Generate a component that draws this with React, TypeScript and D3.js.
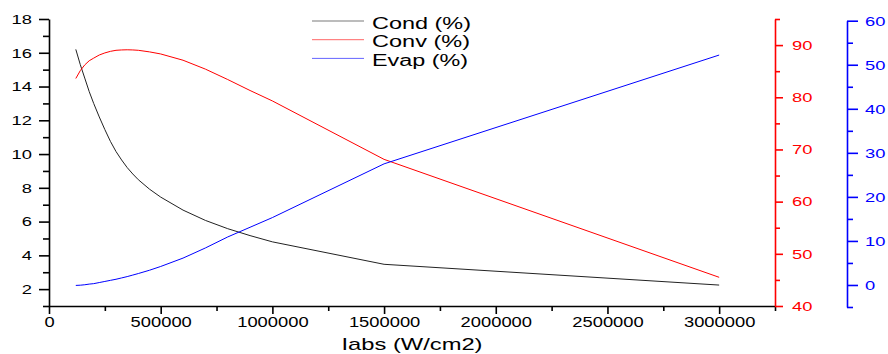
import React, { useEffect, useRef } from 'react';
import * as d3 from 'd3';

// Iabs (W/cm2)
const xVals = [120000, 140000, 160000, 180000, 200000, 225000, 250000, 275000, 300000, 325000, 350000, 375000, 400000,
  450000, 500000, 600000, 700000, 800000, 900000, 1000000, 1500000, 3000000];
// left axis
const cond = [16.2, 15.3, 14.5, 13.7, 13.0, 12.2, 11.45, 10.75, 10.15, 9.65, 9.2, 8.82, 8.48,
  7.92, 7.45, 6.68, 6.07, 5.58, 5.17, 4.8, 3.47, 2.24];
// red axis
const conv = [83.6, 85.1, 86.2, 87.0, 87.5, 88.1, 88.5, 88.8, 89.0, 89.07, 89.1, 89.07, 89.0,
  88.7, 88.3, 87.1, 85.4, 83.4, 81.3, 79.3, 68.1, 45.5];
// blue axis
const evap = [-0.1, -0.05, 0.05, 0.2, 0.3, 0.55, 0.8, 1.05, 1.3, 1.6, 1.9, 2.25, 2.6,
  3.35, 4.2, 6.1, 8.4, 10.9, 13.1, 15.3, 27.5, 52.2];

const legendItems = [
  { label: 'Cond (%)', color: '#222', len: 99 },
  { label: 'Conv (%)', color: '#ff0000', len: 98 },
  { label: 'Evap (%)', color: '#0000ff', len: 96 },
];

const FONT = '"Liberation Sans", Arial, sans-serif';

const App = () => {
  const svgRef = useRef<SVGSVGElement | null>(null);

  useEffect(() => {
    const svg = d3.select(svgRef.current);
    svg.selectAll('*').remove();

    const x = d3.scaleLinear().domain([0, 3250000]).range([49, 775]);
    const yL = d3.scaleLinear().domain([1, 18]).range([306, 19]);
    const yR = d3.scaleLinear().domain([40, 95]).range([306, 19]);
    const yB = d3.scaleLinear().domain([-5, 60]).range([307, 20.7]);

    // major + minor ticks for one axis
    const drawAxis = (pos: string, major: any, minor: any, color: string, size: number) => {
      const gm = svg.append('g').attr('transform', pos).call(minor);
      gm.select('.domain').remove();
      gm.selectAll('line').attr('stroke', color).attr('stroke-width', 1.6);
      gm.selectAll('text').remove();

      const g = svg.append('g').attr('transform', pos).call(major);
      g.selectAll('path').attr('stroke', color).attr('stroke-width', 1.6);
      g.selectAll('line').attr('stroke', color).attr('stroke-width', 1.6);
      g.selectAll('text')
        .attr('fill', color)
        .style('font-family', FONT)
        .style('font-size', size + 'px')
        .attr('textLength', function (this: any) { return (this.textContent.length * 10.2).toString(); })
        .attr('lengthAdjust', 'spacingAndGlyphs');
    };

    drawAxis('translate(49,0)',
      d3.axisLeft(yL).tickValues(d3.range(2, 19, 2)).tickSize(10).tickSizeOuter(0).tickPadding(7),
      d3.axisLeft(yL).tickValues(d3.range(1, 18, 2)).tickSize(6),
      '#000', 13.5);

    drawAxis('translate(0,306)',
      d3.axisBottom(x).tickValues(d3.range(0, 3000001, 500000)).tickSize(8).tickSizeOuter(0).tickPadding(3).tickFormat(d3.format('d')),
      d3.axisBottom(x).tickValues(d3.range(250000, 3250001, 500000)).tickSize(5),
      '#000', 14.5);

    drawAxis('translate(775,0)',
      d3.axisRight(yR).tickValues(d3.range(40, 91, 10)).tickSize(8).tickSizeOuter(0).tickPadding(9),
      d3.axisRight(yR).tickValues(d3.range(45, 96, 10)).tickSize(5),
      '#ff0000', 13.5);

    drawAxis('translate(847,0)',
      d3.axisRight(yB).tickValues(d3.range(0, 61, 10)).tickSize(11).tickSizeOuter(0).tickPadding(7),
      d3.axisRight(yB).tickValues(d3.range(-5, 56, 10)).tickSize(6),
      '#0000ff', 13.5);

    const series = [
      { vals: cond, y: yL, color: '#222' },
      { vals: conv, y: yR, color: '#ff0000' },
      { vals: evap, y: yB, color: '#0000ff' },
    ];
    series.forEach(s => {
      const line = d3.line<number>()
        .x((d, i) => x(xVals[i]))
        .y(d => s.y(d));
      svg.append('path')
        .attr('d', line(s.vals))
        .attr('fill', 'none')
        .attr('stroke', s.color)
        .attr('stroke-width', 1);
    });

    // legend
    const leg = svg.append('g');
    legendItems.forEach((it, i) => {
      const yy = 21 + i * 18.7;
      leg.append('line')
        .attr('x1', 312).attr('x2', 364)
        .attr('y1', yy).attr('y2', yy)
        .attr('stroke', it.color).attr('stroke-width', 1).attr('opacity', 0.6);
      leg.append('text')
        .attr('x', 372).attr('y', yy + 7.7)
        .attr('textLength', it.len)
        .attr('lengthAdjust', 'spacingAndGlyphs')
        .style('font-family', FONT)
        .style('font-size', '16px')
        .attr('fill', '#000')
        .text(it.label);
    });

    // x title
    svg.append('text')
      .attr('x', 412).attr('y', 350)
      .attr('text-anchor', 'middle')
      .attr('textLength', 141)
      .attr('lengthAdjust', 'spacingAndGlyphs')
      .style('font-family', FONT)
      .style('font-size', '17px')
      .attr('fill', '#000')
      .text('Iabs (W/cm2)');
  }, []);

  return (
    <svg ref={svgRef} width={888} height={354} style={{ position: 'absolute', left: 0, top: 0, background: '#fff' }}></svg>
  );
};

export default App;
